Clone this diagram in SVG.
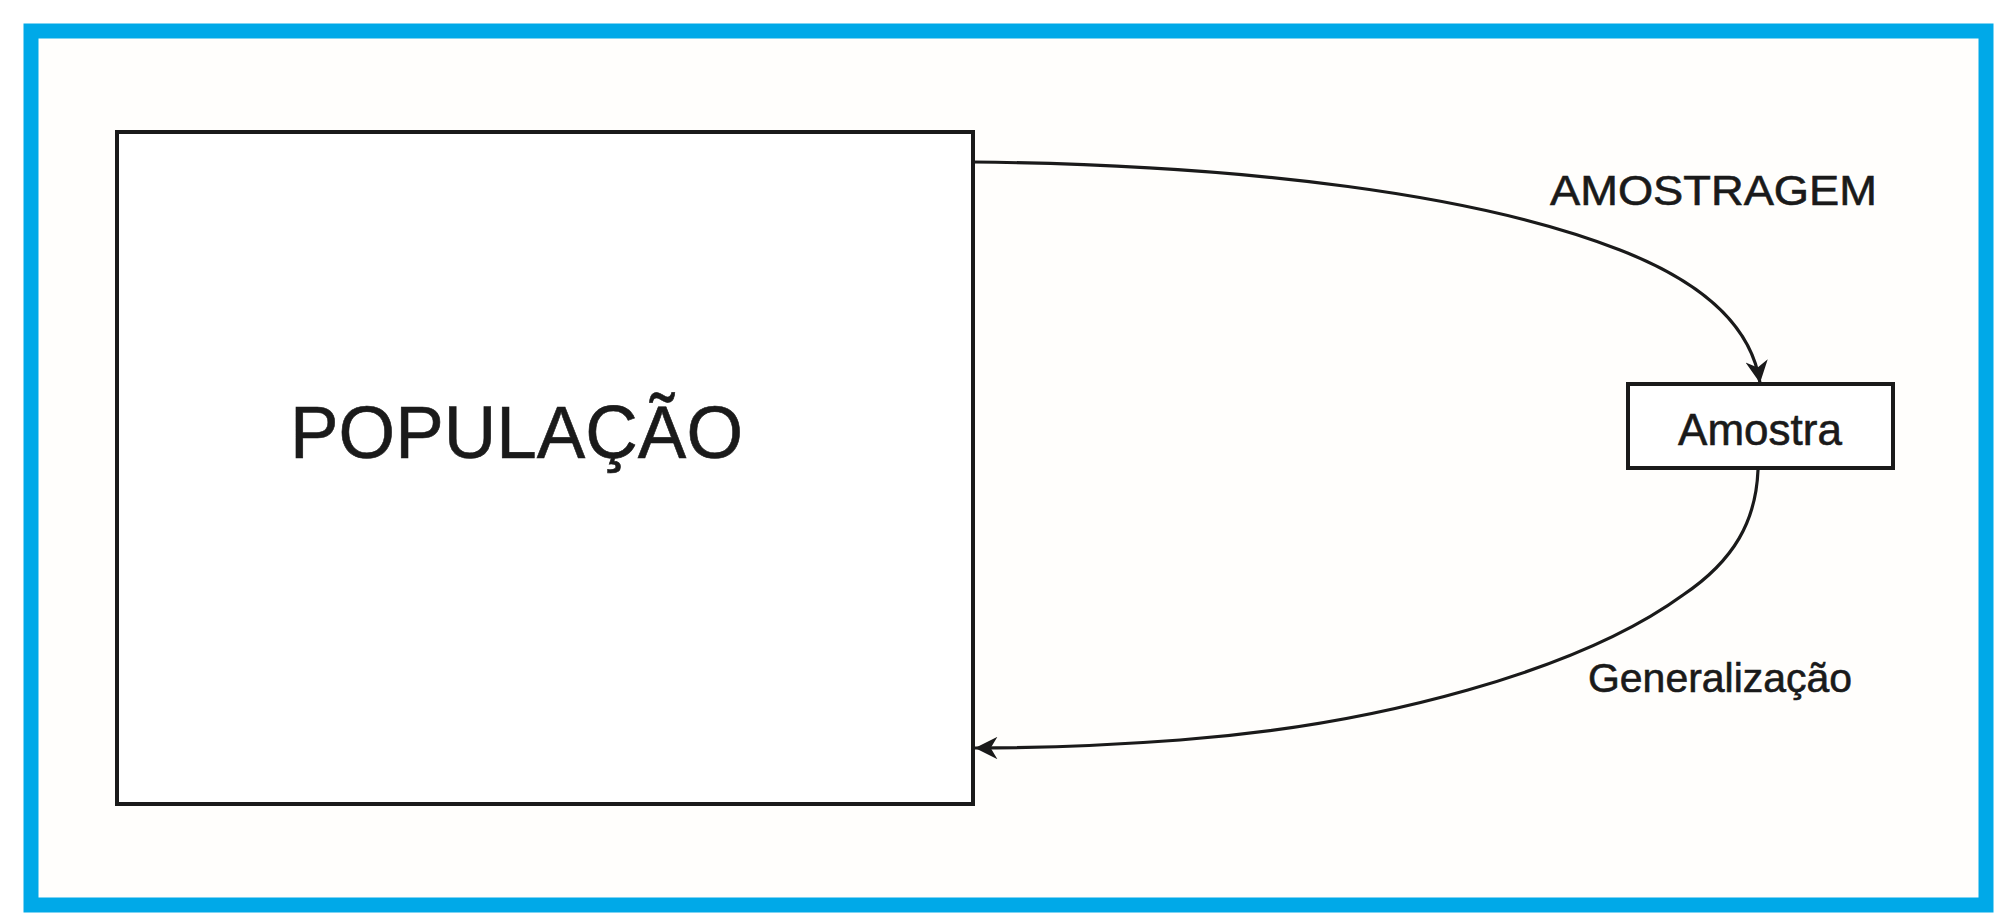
<svg xmlns="http://www.w3.org/2000/svg" width="2000" height="920" viewBox="0 0 2000 920">
  <style>
    .lbl { font-family: "Liberation Sans", Arial, sans-serif; fill: #1a1a1a; stroke: #1a1a1a; stroke-width: 0.6; }
    .box { fill: #ffffff; stroke: #1a1a1a; stroke-width: 4; }
    .conn { fill: none; stroke: #1a1a1a; stroke-width: 3.2; }
  </style>
  <defs>
    <marker id="arrow" viewBox="0 0 10 10" refX="10" refY="5" markerWidth="8" markerHeight="7" markerUnits="strokeWidth" orient="auto">
      <path d="M0,0 L10,5 L0,10 L3,5 Z" fill="#1a1a1a"/>
    </marker>
  </defs>
  <rect x="0" y="0" width="2000" height="920" fill="#ffffff"/>
  <rect id="frame" x="31" y="31" width="1955" height="874" fill="#fffefc" stroke="#00a9e8" stroke-width="15"/>

  <g id="populacao">
    <rect class="box" x="117" y="132" width="856" height="672"/>
    <text class="lbl" x="290" y="458" font-size="74" textLength="453" lengthAdjust="spacingAndGlyphs">POPULAÇÃO</text>
  </g>

  <g id="amostra">
    <rect class="box" x="1628" y="384" width="265" height="84" stroke="#333333"/>
    <text class="lbl" x="1760" y="445" font-size="44" text-anchor="middle">Amostra</text>
  </g>

  <g id="connectors">
    <path class="conn" marker-end="url(#arrow)" d="M973,162 C1250,165 1480,195 1620,250 C1710,285 1752,330 1760,383"/>
    <path class="conn" marker-end="url(#arrow)" d="M1758,470 C1756,520 1735,560 1683,595 C1580,670 1380,725 1180,740 C1100,746 1030,748 975,748"/>
  </g>

  <g id="labels">
    <text class="lbl" x="1550" y="205" font-size="42" textLength="327" lengthAdjust="spacingAndGlyphs">AMOSTRAGEM</text>
    <text class="lbl" x="1588" y="692" font-size="40" textLength="264" lengthAdjust="spacingAndGlyphs">Generalização</text>
  </g>
</svg>
